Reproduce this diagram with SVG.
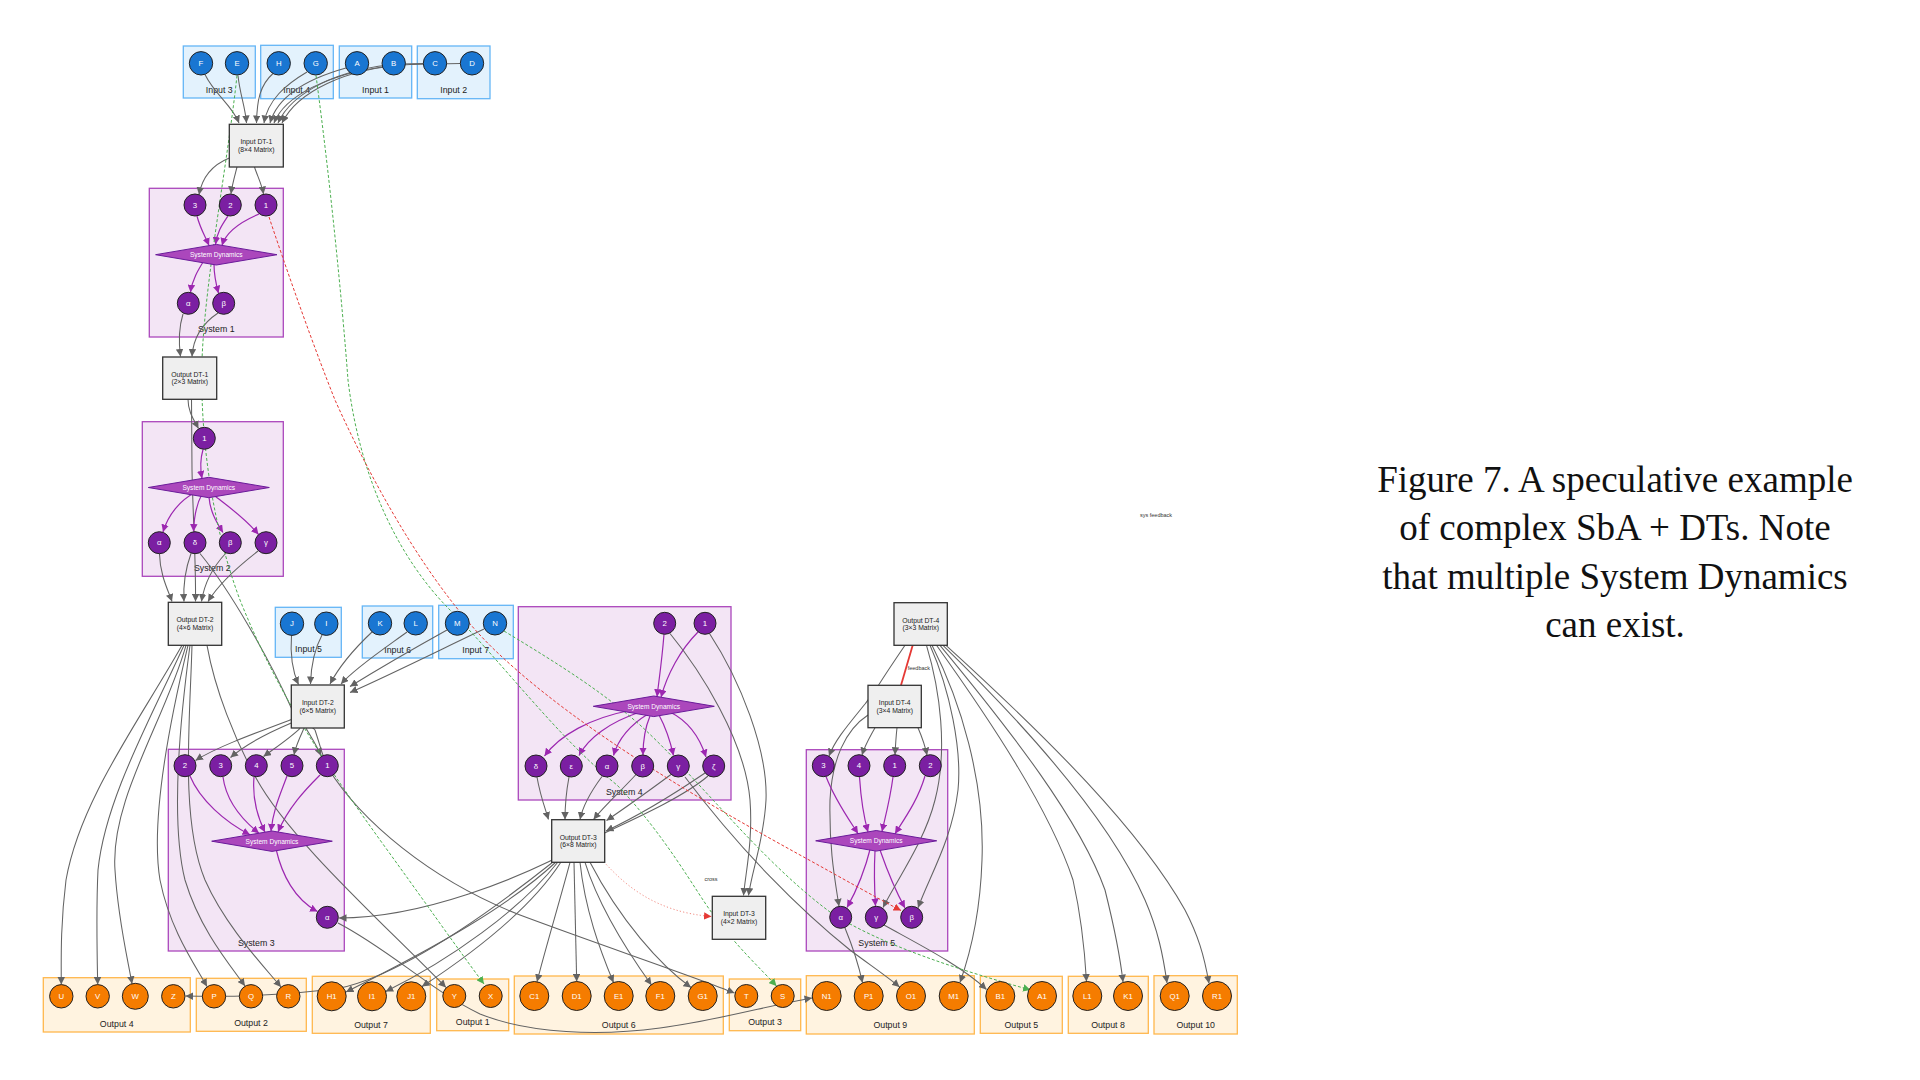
<svg xmlns="http://www.w3.org/2000/svg" width="1920" height="1080" viewBox="0 0 1920 1080">
<defs>
<style>
.cin{fill:#E3F2FD;stroke:#64B5F6;stroke-width:1.3}
.csys{fill:#F3E5F5;stroke:#AB47BC;stroke-width:1.3}
.cout{fill:#FFF3E0;stroke:#FFB74D;stroke-width:1.3}
.nb{fill:#1976D2;stroke:#222;stroke-width:1}
.np{fill:#7B1FA2;stroke:#222;stroke-width:1}
.no{fill:#F57C00;stroke:#222;stroke-width:1}
.dt{fill:#EFEFEF;stroke:#333;stroke-width:1.3}
.sd{fill:#AB47BC;stroke:#6A1B9A;stroke-width:1}
text{font-family:"Liberation Sans",Arial,sans-serif}
.nt{font-size:7.8px;fill:#fff;text-anchor:middle;dominant-baseline:central}
.sdt{font-size:6.6px;fill:#fff;text-anchor:middle;dominant-baseline:central}
.ct{font-size:8.8px;fill:#222;text-anchor:middle}
.dtt{font-size:6.8px;fill:#222;text-anchor:middle}
.lbl{font-size:5.5px;fill:#333}
.cap{font-family:"Liberation Serif","Times New Roman",serif;font-size:37px;fill:#111;text-anchor:middle}
.e{fill:none;stroke:#636363;stroke-width:1.05;marker-end:url(#ag)}
.en{fill:none;stroke:#636363;stroke-width:1.05}
.ep{fill:none;stroke:#9C27B0;stroke-width:1.2;marker-end:url(#ap)}
.eg{fill:none;stroke:#4CAF50;stroke-width:1;stroke-dasharray:3 2;marker-end:url(#agr)}
.er{fill:none;stroke:#E53935;stroke-width:1;stroke-dasharray:3 2;marker-end:url(#ar)}
.ec{fill:none;stroke:#F28B82;stroke-width:1;stroke-dasharray:1.2 2.2;marker-end:url(#ar)}
.ef{fill:none;stroke:#E53935;stroke-width:1.8}
</style>
<marker id="ag" viewBox="0 0 10 10" refX="10" refY="5" markerWidth="7.5" markerHeight="7.5" markerUnits="userSpaceOnUse" orient="auto"><path d="M0,0L10,5L0,10z" fill="#636363"/></marker>
<marker id="ap" viewBox="0 0 10 10" refX="10" refY="5" markerWidth="7.5" markerHeight="7.5" markerUnits="userSpaceOnUse" orient="auto"><path d="M0,0L10,5L0,10z" fill="#9C27B0"/></marker>
<marker id="agr" viewBox="0 0 10 10" refX="10" refY="5" markerWidth="7.5" markerHeight="7.5" markerUnits="userSpaceOnUse" orient="auto"><path d="M0,0L10,5L0,10z" fill="#4CAF50"/></marker>
<marker id="ar" viewBox="0 0 10 10" refX="10" refY="5" markerWidth="7.5" markerHeight="7.5" markerUnits="userSpaceOnUse" orient="auto"><path d="M0,0L10,5L0,10z" fill="#E53935"/></marker>
</defs>
<rect width="1920" height="1080" fill="#fff"/>

<!-- clusters -->
<g id="input3"><rect class="cin" x="183.3" y="46" width="72" height="52"/><text class="ct" x="219.3" y="92.5">Input 3</text></g>
<g id="input4"><rect class="cin" x="260.7" y="45.3" width="72.6" height="53.4"/><text class="ct" x="296.7" y="92.5">Input 4</text></g>
<g id="input1"><rect class="cin" x="339.3" y="46" width="72.4" height="52"/><text class="ct" x="375.5" y="92.5">Input 1</text></g>
<g id="input2"><rect class="cin" x="417.3" y="46" width="72.7" height="52.7"/><text class="ct" x="453.7" y="92.5">Input 2</text></g>
<g id="system1"><rect class="csys" x="149.3" y="188.3" width="134" height="148.7"/><text class="ct" x="216.3" y="331.7">System 1</text></g>
<g id="system2"><rect class="csys" x="142.3" y="421.7" width="141" height="154.6"/><text class="ct" x="212.3" y="571">System 2</text></g>
<g id="input5"><rect class="cin" x="275.3" y="607.3" width="66" height="50"/><text class="ct" x="308.5" y="652">Input 5</text></g>
<g id="input6"><rect class="cin" x="362.3" y="606" width="70.4" height="52"/><text class="ct" x="397.7" y="652.5">Input 6</text></g>
<g id="input7"><rect class="cin" x="438.7" y="605.3" width="74.6" height="53.4"/><text class="ct" x="475.7" y="653">Input 7</text></g>
<g id="system4"><rect class="csys" x="518.3" y="606.7" width="212.7" height="193.3"/><text class="ct" x="624.3" y="794.5">System 4</text></g>
<g id="system3"><rect class="csys" x="168.3" y="749.3" width="176" height="201.7"/><text class="ct" x="256.3" y="945.5">System 3</text></g>
<g id="system5"><rect class="csys" x="806.3" y="749.7" width="141.4" height="201.3"/><text class="ct" x="876.7" y="945.5">System 5</text></g>
<g id="output4"><rect class="cout" x="43.3" y="977.7" width="147" height="54.3"/><text class="ct" x="116.7" y="1026.5">Output 4</text></g>
<g id="output2"><rect class="cout" x="196.3" y="978.3" width="110" height="53"/><text class="ct" x="251" y="1026">Output 2</text></g>
<g id="output7"><rect class="cout" x="312.3" y="976.3" width="118" height="57"/><text class="ct" x="371" y="1028">Output 7</text></g>
<g id="output1"><rect class="cout" x="436.7" y="979" width="72" height="51.7"/><text class="ct" x="472.7" y="1025">Output 1</text></g>
<g id="output6"><rect class="cout" x="514.3" y="976" width="209" height="58"/><text class="ct" x="618.7" y="1028">Output 6</text></g>
<g id="output3"><rect class="cout" x="729.3" y="979" width="71.4" height="51.7"/><text class="ct" x="765" y="1025">Output 3</text></g>
<g id="output9"><rect class="cout" x="806.3" y="975.7" width="168" height="58.3"/><text class="ct" x="890.3" y="1028">Output 9</text></g>
<g id="output5"><rect class="cout" x="980.3" y="976.3" width="82" height="57"/><text class="ct" x="1021.3" y="1028">Output 5</text></g>
<g id="output8"><rect class="cout" x="1068.3" y="976.3" width="80" height="57"/><text class="ct" x="1108" y="1028">Output 8</text></g>
<g id="output10"><rect class="cout" x="1154" y="975.7" width="83.3" height="58.3"/><text class="ct" x="1195.7" y="1028">Output 10</text></g>

<!-- connectors -->
<g id="connectors">
<path class="e" d="M205,74.5 C215,95 232,105 239,123"/>
<path class="e" d="M238,75.5 C240,95 245,105 246.5,123"/>
<path class="e" d="M273,73.5 C260,85 257,100 256.5,123"/>
<path class="e" d="M307,72 C285,85 268,100 264,123"/>
<path class="e" d="M346,68 C310,78 278,95 270,123"/>
<path class="e" d="M382,67 C330,74 285,95 274,123"/>
<path class="e" d="M423,63.5 L400,64 C340,68 292,92 278,123"/>
<path class="e" d="M460,63.5 L410,64.5 C345,68 297,92 282,123"/>
<path class="e" d="M229.3,158 C212,165 202,178 199,194.8"/>
<path class="e" d="M237,167 C235,175 232,185 231,193.8"/>
<path class="e" d="M254.5,167 C257,175 262,185 263.5,194"/>
<path class="ep" d="M197,216 C200,228 205,236 209,245.5"/>
<path class="ep" d="M228,216 C222,225 217,232 215.5,244.6"/>
<path class="ep" d="M259,214 C240,222 226,232 222,245.4"/>
<path class="ep" d="M205,259 C198,270 192,280 190.5,292.3"/>
<path class="ep" d="M214,264 C214,275 216,284 218.5,293.2"/>
<path class="e" d="M183,314 C178,330 179,345 180.5,356.5"/>
<path class="e" d="M218,313 C200,325 193,340 192,356.5"/>
<path class="e" d="M188,399.3 C188,412 194,420 198.5,428.5"/>
<path class="e" d="M191.5,399.3 L192,470 C193,520 196,560 195.5,601.5"/>
<path class="ep" d="M203,449.5 C200,460 200,468 202,478.4"/>
<path class="ep" d="M196,492 C180,500 168,515 163,532"/>
<path class="ep" d="M202,494 C196,505 194,518 193.5,531.5"/>
<path class="ep" d="M209,497 C210,510 215,520 223,532.5"/>
<path class="ep" d="M215,496 C230,508 245,518 258.5,534.5"/>
<path class="e" d="M159.5,554 C160,575 168,590 172,601.5"/>
<path class="e" d="M191,553.5 C185,570 183,585 184,601.5"/>
<path class="e" d="M226,553 C210,570 204,585 201.5,601.5"/>
<path class="e" d="M258,551 C240,565 218,585 208,601.5"/>
<path class="e" d="M200,553.5 C230,590 270,660 291.3,708 C300,718 310,725 315,730 C320,745 323,758 328,768 C360,820 430,880 520,915 C600,945 690,975 734.5,993"/>
<path class="e" d="M291.5,635.5 C290,655 292,670 298.5,684.5"/>
<path class="e" d="M322,635 C314,650 311,665 310.5,684"/>
<path class="e" d="M372,632 C355,648 340,665 330,684"/>
<path class="e" d="M407,632 C385,648 355,668 341,684"/>
<path class="e" d="M447,630 C420,645 380,668 350,686.5"/>
<path class="e" d="M484,629 C450,645 390,675 350,692.5"/>
<path class="e" d="M291.3,719.5 C250,735 215,748 195.5,760.5"/>
<path class="e" d="M291.3,723 C270,732 245,745 230.5,757.5"/>
<path class="e" d="M300,728.3 C290,738 275,748 263.5,756.5"/>
<path class="e" d="M304,728.3 C300,737 296,745 294,754.8"/>
<path class="e" d="M306,728.3 C311,737 317,746 321,755.8"/>
<path class="ep" d="M190,776 C200,800 225,822 250,834.7"/>
<path class="ep" d="M223,777 C226,800 240,818 259,833.2"/>
<path class="ep" d="M254,777 C252,800 258,818 265,832.2"/>
<path class="ep" d="M287,776 C280,795 273,810 271,831.2"/>
<path class="ep" d="M320,775 C305,790 288,808 278,832"/>
<path class="ep" d="M276,849 C282,875 295,900 317.5,911.5"/>
<path class="e" d="M182,645.3 C140,720 80,800 66,880 C61,920 61,950 61.3,984.5"/>
<path class="e" d="M184,645.3 C150,720 105,800 98,870 C96,910 97,950 97.7,984.5"/>
<path class="e" d="M186,645.3 C165,720 110,800 115,870 C118,920 128,960 132,983.8"/>
<path class="e" d="M188,645.3 C170,720 150,820 160,880 C170,930 195,965 207,986.5"/>
<path class="e" d="M190,645.3 C180,720 170,820 185,880 C200,930 230,965 245,986"/>
<path class="e" d="M192,645.3 C190,720 180,820 205,880 C225,925 260,962 281,987"/>
<path class="e" d="M207,645.3 C215,690 235,740 256,778 C290,840 380,920 446,987.5"/>
<path class="e" d="M708,776 C680,800 620,825 590,840 C520,880 420,918 339,918"/>
<path class="e" d="M553,862 C480,920 400,975 340,988 C290,995 230,997 185.5,996"/>
<path class="e" d="M556,862 C510,905 440,945 346,992"/>
<path class="e" d="M558,862 C520,910 450,960 385.7,991.5"/>
<path class="e" d="M561,862 C530,910 470,955 422,986.5"/>
<path class="e" d="M570,862.3 C560,900 545,950 537,981.8"/>
<path class="e" d="M574,862.3 C575,900 576,940 576.7,981.5"/>
<path class="e" d="M580,862.3 C585,910 600,950 613.5,982.5"/>
<path class="e" d="M585,862.3 C600,910 630,955 651.5,985"/>
<path class="e" d="M590,862.3 C620,920 660,965 691,987.5"/>
<path class="ec" d="M604,862 C625,885 655,912 711.5,916.5"/>
<path class="ep" d="M664,634.3 C662,660 659,680 657,696.7"/>
<path class="ep" d="M698,632 C680,650 667,675 661,697.3"/>
<path class="ep" d="M632,710 C590,718 560,735 544.5,756"/>
<path class="ep" d="M640,712 C610,722 588,738 579,755.5"/>
<path class="ep" d="M648,714 C630,725 618,740 613.5,755.5"/>
<path class="ep" d="M650,716 C645,728 643,740 643,755"/>
<path class="ep" d="M659,715 C666,728 670,740 673.5,755.5"/>
<path class="ep" d="M670,712 C690,722 700,738 706,757"/>
<path class="e" d="M537,777 C540,795 545,808 548.5,819.5"/>
<path class="e" d="M569,777 C566,793 565,806 565,819.5"/>
<path class="e" d="M602,776.5 C592,790 583,805 580,819.5"/>
<path class="e" d="M636,774.5 C622,790 605,805 593.5,819.5"/>
<path class="e" d="M671,774.5 C650,790 625,808 606.5,820.5"/>
<path class="e" d="M705,773 C680,790 640,815 606,831"/>
<path class="e" d="M670,633.5 C700,670 745,740 750,800 C753,840 746,870 743.5,895.5"/>
<path class="e" d="M709.5,633.5 C740,680 768,750 766,800 C764,840 752,870 748.5,895.5"/>
<path class="e" d="M685,777 C740,850 800,910 850,950 C870,965 888,977 899.5,987"/>
<path class="ef" d="M912.7,645.3 L901,685.3"/>
<path class="e" d="M905,645.3 C895,660 885,675 878,686 C872,695 868,700 865,704 C848,725 835,740 829,756"/>
<path class="e" d="M868,715 C845,730 832,760 830,800 C829,850 835,880 839,906.3"/>
<path class="e" d="M875,727.7 C870,737 865,745 862,755"/>
<path class="e" d="M897,727.7 C896,737 895.5,745 895,754.7"/>
<path class="e" d="M918,727.7 C922,737 925,745 927,755.2"/>
<path class="ep" d="M826,776.5 C835,800 848,818 858,833.6"/>
<path class="ep" d="M859.5,777 C861,800 864,818 868,831.9"/>
<path class="ep" d="M893,777 C890,800 885,818 882,831.5"/>
<path class="ep" d="M925,776 C918,800 905,818 895,833.7"/>
<path class="ep" d="M871,846 C865,870 857,890 847,907.5"/>
<path class="ep" d="M875,851 C874,870 874.5,890 875.5,906"/>
<path class="ep" d="M880,850 C887,870 895,890 905,908"/>
<path class="e" d="M926.5,645.3 C940,690 948,750 935,800 C925,840 900,875 883,907.5"/>
<path class="e" d="M930,645.3 C950,690 962,750 958,790 C952,840 930,875 918,907.8"/>
<path class="e" d="M932,645.3 C960,700 985,780 982,860 C980,920 968,960 960,982.5"/>
<path class="e" d="M936.5,645.3 C990,720 1050,810 1073,880 C1082,920 1085,955 1086.5,981.5"/>
<path class="e" d="M940,645.3 C1010,730 1080,820 1105,890 C1115,930 1120,955 1123,982"/>
<path class="e" d="M943,645.3 C1030,730 1110,820 1145,900 C1158,930 1163,955 1167,983"/>
<path class="e" d="M946,645.3 C1050,740 1140,830 1185,910 C1198,935 1204,955 1209,983.5"/>
<path class="e" d="M845,928 C852,945 858,962 862.5,982.7"/>
<path class="e" d="M884,925 C920,945 960,965 986.5,989.5"/>
<path class="e" d="M338,923 C390,950 430,990 480,1014 C530,1034 600,1036 660,1028 C720,1020 770,1005 812,998"/>
<path class="eg" d="M237,75.5 C228,160 205,280 202,360 C200,430 210,520 240,600 C280,700 330,770 380,840 C420,895 455,945 484,984"/>
<path class="eg" d="M316,75.5 C330,180 342,300 348,380 C360,480 400,560 450,610 C500,660 560,740 617,785 C665,835 695,890 712,913 C735,945 760,968 776.5,986"/>
<path class="eg" d="M504,631 C560,665 600,690 640,725 C700,780 760,860 830,912 C880,945 960,970 1030.5,990"/>
<path class="er" d="M269,217 C290,280 315,350 335,400 C380,500 440,600 500,655 C580,730 700,800 800,855 C840,877 875,897 901,910.5"/>
<text class="lbl" x="907.7" y="670">feedback</text>
<text class="lbl" x="711" y="881" text-anchor="middle">cross</text>
<text class="lbl" x="1140" y="517">sys feedback</text>
</g>

<!-- DT nodes -->
<g id="inputDT1"><rect class="dt" x="229.3" y="124.3" width="54" height="42.7"/><text class="dtt" x="256.3" y="144">Input DT-1</text><text class="dtt" x="256.3" y="151.6">(8×4 Matrix)</text></g>
<g id="outputDT1"><rect class="dt" x="162.7" y="357" width="54" height="42.3"/><text class="dtt" x="189.7" y="376.5">Output DT-1</text><text class="dtt" x="189.7" y="384.1">(2×3 Matrix)</text></g>
<g id="outputDT2"><rect class="dt" x="168.3" y="602.3" width="53.4" height="43"/><text class="dtt" x="195" y="622.3">Output DT-2</text><text class="dtt" x="195" y="629.9">(4×6 Matrix)</text></g>
<g id="inputDT2"><rect class="dt" x="291.3" y="685" width="53" height="43"/><text class="dtt" x="317.8" y="705">Input DT-2</text><text class="dtt" x="317.8" y="712.6">(6×5 Matrix)</text></g>
<g id="outputDT3"><rect class="dt" x="551.7" y="819.7" width="53" height="42.6"/><text class="dtt" x="578.2" y="839.5">Output DT-3</text><text class="dtt" x="578.2" y="847.1">(6×8 Matrix)</text></g>
<g id="inputDT3"><rect class="dt" x="712.3" y="896.3" width="53.4" height="43"/><text class="dtt" x="739" y="916.3">Input DT-3</text><text class="dtt" x="739" y="923.9">(4×2 Matrix)</text></g>
<g id="outputDT4"><rect class="dt" x="894" y="602.7" width="53.3" height="42.6"/><text class="dtt" x="920.7" y="622.5">Output DT-4</text><text class="dtt" x="920.7" y="630.1">(3×3 Matrix)</text></g>
<g id="inputDT4"><rect class="dt" x="868" y="685.3" width="53.3" height="42.4"/><text class="dtt" x="894.7" y="705">Input DT-4</text><text class="dtt" x="894.7" y="712.6">(3×4 Matrix)</text></g>

<!-- System Dynamics diamonds -->
<g id="sd1"><polygon class="sd" points="155.6,254.7 216.3,244.4 277,254.7 216.3,265"/><text class="sdt" x="216.3" y="254.7">System Dynamics</text></g>
<g id="sd2"><polygon class="sd" points="148.3,487.5 208.8,477.3 269.3,487.5 208.8,497.7"/><text class="sdt" x="208.8" y="487.5">System Dynamics</text></g>
<g id="sd3"><polygon class="sd" points="211.7,841.2 272,831 332.3,841.2 272,851.4"/><text class="sdt" x="272" y="841.2">System Dynamics</text></g>
<g id="sd4"><polygon class="sd" points="593.3,706.3 653.8,696 714.3,706.3 653.8,716.6"/><text class="sdt" x="653.8" y="706.3">System Dynamics</text></g>
<g id="sd5"><polygon class="sd" points="815.7,840.8 876.2,830.5 936.7,840.8 876.2,851.1"/><text class="sdt" x="876.2" y="840.8">System Dynamics</text></g>

<!-- input circles -->
<g id="nF"><circle class="nb" cx="201" cy="63.3" r="11.7"/><text class="nt" x="201" y="63.3">F</text></g>
<g id="nE"><circle class="nb" cx="237" cy="63.3" r="11.7"/><text class="nt" x="237" y="63.3">E</text></g>
<g id="nH"><circle class="nb" cx="278.7" cy="63.3" r="11.7"/><text class="nt" x="278.7" y="63.3">H</text></g>
<g id="nG"><circle class="nb" cx="315.7" cy="63.3" r="11.7"/><text class="nt" x="315.7" y="63.3">G</text></g>
<g id="nA"><circle class="nb" cx="357" cy="63.3" r="11.7"/><text class="nt" x="357" y="63.3">A</text></g>
<g id="nB"><circle class="nb" cx="393.7" cy="63.3" r="11.7"/><text class="nt" x="393.7" y="63.3">B</text></g>
<g id="nC"><circle class="nb" cx="435" cy="63.3" r="11.7"/><text class="nt" x="435" y="63.3">C</text></g>
<g id="nD"><circle class="nb" cx="472" cy="63.3" r="11.7"/><text class="nt" x="472" y="63.3">D</text></g>
<g id="nJ"><circle class="nb" cx="292" cy="623.7" r="11.7"/><text class="nt" x="292" y="623.7">J</text></g>
<g id="nI"><circle class="nb" cx="326.3" cy="623.7" r="11.7"/><text class="nt" x="326.3" y="623.7">I</text></g>
<g id="nK"><circle class="nb" cx="380" cy="623.3" r="11.7"/><text class="nt" x="380" y="623.3">K</text></g>
<g id="nL"><circle class="nb" cx="415.7" cy="623.3" r="11.7"/><text class="nt" x="415.7" y="623.3">L</text></g>
<g id="nM"><circle class="nb" cx="457.3" cy="623.3" r="12"/><text class="nt" x="457.3" y="623.3">M</text></g>
<g id="nN"><circle class="nb" cx="495" cy="623.3" r="11.7"/><text class="nt" x="495" y="623.3">N</text></g>

<!-- system 1 -->
<g id="s1n3"><circle class="np" cx="195" cy="205" r="11"/><text class="nt" x="195" y="205">3</text></g>
<g id="s1n2"><circle class="np" cx="230.3" cy="205" r="11"/><text class="nt" x="230.3" y="205">2</text></g>
<g id="s1n1"><circle class="np" cx="266" cy="205" r="11"/><text class="nt" x="266" y="205">1</text></g>
<g id="s1a"><circle class="np" cx="188.3" cy="303.3" r="11"/><text class="nt" x="188.3" y="303.3">α</text></g>
<g id="s1b"><circle class="np" cx="223.7" cy="303.3" r="11"/><text class="nt" x="223.7" y="303.3">β</text></g>
<!-- system 2 -->
<g id="s2n1"><circle class="np" cx="204.3" cy="438.3" r="11"/><text class="nt" x="204.3" y="438.3">1</text></g>
<g id="s2a"><circle class="np" cx="159.3" cy="542.7" r="11"/><text class="nt" x="159.3" y="542.7">α</text></g>
<g id="s2d"><circle class="np" cx="195" cy="542.7" r="11"/><text class="nt" x="195" y="542.7">δ</text></g>
<g id="s2b"><circle class="np" cx="230.3" cy="542.7" r="11"/><text class="nt" x="230.3" y="542.7">β</text></g>
<g id="s2g"><circle class="np" cx="266" cy="542.7" r="11"/><text class="nt" x="266" y="542.7">γ</text></g>
<!-- system 3 -->
<g id="s3n2"><circle class="np" cx="185" cy="765.7" r="11"/><text class="nt" x="185" y="765.7">2</text></g>
<g id="s3n3"><circle class="np" cx="220.7" cy="765.7" r="11"/><text class="nt" x="220.7" y="765.7">3</text></g>
<g id="s3n4"><circle class="np" cx="256.3" cy="765.7" r="11"/><text class="nt" x="256.3" y="765.7">4</text></g>
<g id="s3n5"><circle class="np" cx="292" cy="765.7" r="11"/><text class="nt" x="292" y="765.7">5</text></g>
<g id="s3n1"><circle class="np" cx="327.3" cy="765.7" r="11"/><text class="nt" x="327.3" y="765.7">1</text></g>
<g id="s3a"><circle class="np" cx="327.3" cy="917.3" r="11"/><text class="nt" x="327.3" y="917.3">α</text></g>
<!-- system 4 -->
<g id="s4n2"><circle class="np" cx="664.7" cy="623.3" r="11"/><text class="nt" x="664.7" y="623.3">2</text></g>
<g id="s4n1"><circle class="np" cx="705" cy="623.3" r="11"/><text class="nt" x="705" y="623.3">1</text></g>
<g id="s4d"><circle class="np" cx="536" cy="766" r="11"/><text class="nt" x="536" y="766">δ</text></g>
<g id="s4e"><circle class="np" cx="571.3" cy="766" r="11"/><text class="nt" x="571.3" y="766">ε</text></g>
<g id="s4a"><circle class="np" cx="607" cy="766" r="11"/><text class="nt" x="607" y="766">α</text></g>
<g id="s4b"><circle class="np" cx="642.7" cy="766" r="11"/><text class="nt" x="642.7" y="766">β</text></g>
<g id="s4g"><circle class="np" cx="678.3" cy="766" r="11"/><text class="nt" x="678.3" y="766">γ</text></g>
<g id="s4z"><circle class="np" cx="713.7" cy="766" r="11"/><text class="nt" x="713.7" y="766">ζ</text></g>
<!-- system 5 -->
<g id="s5n3"><circle class="np" cx="823.3" cy="765.7" r="11"/><text class="nt" x="823.3" y="765.7">3</text></g>
<g id="s5n4"><circle class="np" cx="859" cy="765.7" r="11"/><text class="nt" x="859" y="765.7">4</text></g>
<g id="s5n1"><circle class="np" cx="894.7" cy="765.7" r="11"/><text class="nt" x="894.7" y="765.7">1</text></g>
<g id="s5n2"><circle class="np" cx="930.3" cy="765.7" r="11"/><text class="nt" x="930.3" y="765.7">2</text></g>
<g id="s5a"><circle class="np" cx="840.7" cy="917.3" r="11"/><text class="nt" x="840.7" y="917.3">α</text></g>
<g id="s5g"><circle class="np" cx="876.3" cy="917.3" r="11"/><text class="nt" x="876.3" y="917.3">γ</text></g>
<g id="s5b"><circle class="np" cx="911.7" cy="917.3" r="11"/><text class="nt" x="911.7" y="917.3">β</text></g>

<!-- outputs -->
<g id="nU"><circle class="no" cx="61.3" cy="996.3" r="11.7"/><text class="nt" x="61.3" y="996.3">U</text></g>
<g id="nV"><circle class="no" cx="97.7" cy="996.3" r="11.7"/><text class="nt" x="97.7" y="996.3">V</text></g>
<g id="nW"><circle class="no" cx="135.3" cy="996.3" r="13"/><text class="nt" x="135.3" y="996.3">W</text></g>
<g id="nZ"><circle class="no" cx="173.3" cy="996.3" r="11.7"/><text class="nt" x="173.3" y="996.3">Z</text></g>
<g id="nP"><circle class="no" cx="214" cy="996.3" r="11.7"/><text class="nt" x="214" y="996.3">P</text></g>
<g id="nQ"><circle class="no" cx="251" cy="996.3" r="11.7"/><text class="nt" x="251" y="996.3">Q</text></g>
<g id="nR"><circle class="no" cx="288.3" cy="996.3" r="11.7"/><text class="nt" x="288.3" y="996.3">R</text></g>
<g id="nH1"><circle class="no" cx="331.7" cy="996.3" r="14.5"/><text class="nt" x="331.7" y="996.3">H1</text></g>
<g id="nI1"><circle class="no" cx="372" cy="996.3" r="14.5"/><text class="nt" x="372" y="996.3">I1</text></g>
<g id="nJ1"><circle class="no" cx="411.3" cy="996.3" r="14.5"/><text class="nt" x="411.3" y="996.3">J1</text></g>
<g id="nY"><circle class="no" cx="454.3" cy="996" r="11.5"/><text class="nt" x="454.3" y="996">Y</text></g>
<g id="nX"><circle class="no" cx="490.7" cy="996" r="11.5"/><text class="nt" x="490.7" y="996">X</text></g>
<g id="nC1"><circle class="no" cx="534.3" cy="996" r="14.5"/><text class="nt" x="534.3" y="996">C1</text></g>
<g id="nD1"><circle class="no" cx="576.7" cy="996" r="14.5"/><text class="nt" x="576.7" y="996">D1</text></g>
<g id="nE1"><circle class="no" cx="618.7" cy="996" r="14.5"/><text class="nt" x="618.7" y="996">E1</text></g>
<g id="nF1"><circle class="no" cx="660.3" cy="996" r="14.5"/><text class="nt" x="660.3" y="996">F1</text></g>
<g id="nG1"><circle class="no" cx="702.7" cy="996" r="14.5"/><text class="nt" x="702.7" y="996">G1</text></g>
<g id="nT"><circle class="no" cx="746.3" cy="996" r="11.5"/><text class="nt" x="746.3" y="996">T</text></g>
<g id="nS"><circle class="no" cx="782.7" cy="996" r="11.5"/><text class="nt" x="782.7" y="996">S</text></g>
<g id="nN1"><circle class="no" cx="826.7" cy="996" r="14.5"/><text class="nt" x="826.7" y="996">N1</text></g>
<g id="nP1"><circle class="no" cx="868.7" cy="996" r="14.5"/><text class="nt" x="868.7" y="996">P1</text></g>
<g id="nO1"><circle class="no" cx="911" cy="996" r="14.5"/><text class="nt" x="911" y="996">O1</text></g>
<g id="nM1"><circle class="no" cx="953.7" cy="996" r="14.5"/><text class="nt" x="953.7" y="996">M1</text></g>
<g id="nB1"><circle class="no" cx="1000.3" cy="996" r="14.5"/><text class="nt" x="1000.3" y="996">B1</text></g>
<g id="nA1"><circle class="no" cx="1042" cy="996" r="14.5"/><text class="nt" x="1042" y="996">A1</text></g>
<g id="nL1"><circle class="no" cx="1087.3" cy="996" r="14.5"/><text class="nt" x="1087.3" y="996">L1</text></g>
<g id="nK1"><circle class="no" cx="1128" cy="996" r="14.5"/><text class="nt" x="1128" y="996">K1</text></g>
<g id="nQ1"><circle class="no" cx="1174.7" cy="996" r="14.5"/><text class="nt" x="1174.7" y="996">Q1</text></g>
<g id="nR1"><circle class="no" cx="1217" cy="996" r="14.5"/><text class="nt" x="1217" y="996">R1</text></g>

<g id="caption">
<text class="cap" x="1615" y="491.7">Figure 7. A speculative example</text>
<text class="cap" x="1615" y="540.2">of complex SbA + DTs. Note</text>
<text class="cap" x="1615" y="588.5">that multiple System Dynamics</text>
<text class="cap" x="1615" y="636.7">can exist.</text>
</g>
</svg>
